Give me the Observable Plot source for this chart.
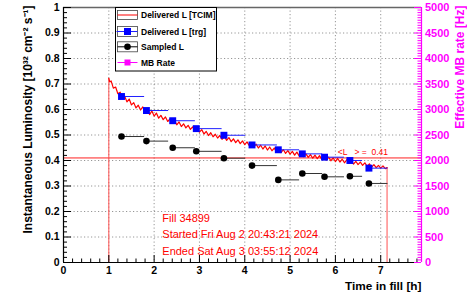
<!DOCTYPE html>
<html><head><meta charset="utf-8">
<script src="https://cdn.jsdelivr.net/npm/d3@7"></script>
<script src="https://cdn.jsdelivr.net/npm/@observablehq/plot@0.6"></script>
<style>html,body{margin:0;padding:0;background:#fff} svg{display:block}</style>
</head><body><div id="chart"></div>
<script>
// ---- data ----
const tcimTime = [1.00,1.02,1.05,1.10,1.15,1.20,1.25,1.30,1.35,1.40,1.45,1.50,1.55,1.60,1.65,1.70,1.75,1.80,1.85,1.90,1.95,2.00,2.05,2.10,2.15,2.20,2.25,2.30,2.35,2.40,2.45,2.50,2.55,2.60,2.65,2.70,2.75,2.80,2.85,2.90,2.95,3.00,3.05,3.10,3.15,3.20,3.25,3.30,3.35,3.40,3.45,3.50,3.55,3.60,3.65,3.70,3.75,3.80,3.85,3.90,3.95,4.00,4.05,4.10,4.15,4.20,4.25,4.30,4.35,4.40,4.45,4.50,4.55,4.60,4.65,4.70,4.75,4.80,4.85,4.90,4.95,5.00,5.05,5.10,5.15,5.20,5.25,5.30,5.35,5.40,5.45,5.50,5.55,5.60,5.65,5.70,5.75,5.80,5.85,5.90,5.95,6.00,6.05,6.10,6.15,6.20,6.25,6.30,6.35,6.40,6.45,6.50,6.55,6.60,6.65,6.70,6.75,6.80,6.85,6.90,6.95,7.00,7.05,7.10,7.14];
const tcimLumi = [0.722,0.708,0.712,0.684,0.688,0.662,0.668,0.645,0.652,0.630,0.641,0.618,0.627,0.606,0.617,0.598,0.610,0.590,0.600,0.580,0.594,0.574,0.586,0.566,0.577,0.560,0.571,0.553,0.563,0.546,0.558,0.540,0.551,0.533,0.544,0.528,0.538,0.522,0.532,0.516,0.527,0.511,0.521,0.504,0.514,0.498,0.509,0.493,0.503,0.488,0.498,0.483,0.494,0.479,0.490,0.474,0.485,0.470,0.481,0.466,0.477,0.462,0.473,0.458,0.468,0.453,0.464,0.449,0.460,0.445,0.457,0.441,0.453,0.438,0.449,0.434,0.446,0.431,0.443,0.428,0.439,0.425,0.436,0.421,0.433,0.418,0.430,0.415,0.426,0.412,0.423,0.409,0.421,0.407,0.419,0.404,0.416,0.402,0.413,0.399,0.410,0.396,0.408,0.394,0.405,0.391,0.403,0.389,0.400,0.386,0.397,0.384,0.394,0.381,0.391,0.377,0.387,0.374,0.384,0.372,0.381,0.370,0.379,0.368,0.372];
const binStart = [1.28,1.83,2.41,2.93,3.54,4.16,4.74,5.27,5.76,6.32,6.74];
const binEnd   = [1.79,2.32,2.91,3.50,4.02,4.72,5.21,5.72,6.20,6.60,7.16];
const trgLumi     = [0.651,0.596,0.556,0.525,0.499,0.461,0.442,0.426,0.413,0.400,0.370];
const sampledLumi = [0.494,0.476,0.450,0.436,0.409,0.380,0.324,0.349,0.336,0.338,0.310];
const fillStart = 1.0, fillEnd = 7.14, avgLumi = 0.41, xMax = 7.9;
const xTicks = [0,1,2,3,4,5,6,7];
const yTicks = [0,0.1,0.2,0.3,0.4,0.5,0.6,0.7,0.8,0.9,1];
const yTickLabels = ["0","0.1","0.2","0.3","0.4","0.5","0.6","0.7","0.8","0.9","1"];
const rateTicks = [0,500,1000,1500,2000,2500,3000,3500,4000,4500,5000];
const rateMax = 5000;
const legendLabels = ["Delivered L [TCIM]","Delivered L [trg]","Sampled L","MB Rate"];
const infoText = "Fill 34899\nStarted Fri Aug 2 20:43:21 2024\nEnded Sat Aug 3 03:55:12 2024";
const avgLabel = "<L\u00a0\u00a0\u00a0> =\u00a0\u00a00.41";
const xTitle = "Time in fill [h]";
const yTitle = "Instantaneous Luminosity [10³² cm⁻² s⁻¹]";
const rateTitle = "Effective MB rate [Hz]";

// ---- derived tables ----
const n = Math.min(tcimTime.length, tcimLumi.length);
const tcim = d3.range(n).map(i => ({t: tcimTime[i], l: tcimLumi[i]}));
const bins = binStart.map((t, i) => ({t, end: binEnd[i], trg: trgLumi[i], smp: sampledLumi[i]}));
const xMinor = d3.range(0, xMax, 0.2).filter(v => Math.abs(v - Math.round(v)) > 1e-6);
const yMinor = d3.range(0, 1, 0.02).filter(v => Math.abs(v*10 - Math.round(v*10)) > 1e-6);
const rateMinor = d3.range(0, rateMax, 50).filter(v => v % 500 !== 0);
const pxX = xMax / (467 - 63 - 46), pxY = 1 / (295 - 7 - 33);
const FONT = "'Liberation Sans', Arial, Helvetica, sans-serif";
const grid = {stroke: "#8a8a8a", strokeDasharray: "1.2,2.3", strokeWidth: 0.9};

const plot = Plot.plot({
  width: 467, height: 295,
  marginLeft: 63, marginRight: 46, marginTop: 7, marginBottom: 33,
  style: {fontFamily: FONT, fontSize: "10.5px", fontWeight: "bold", background: "#fff", color: "#000", overflow: "visible"},
  x: {domain: [0, xMax], ticks: xTicks, tickSize: 0, tickPadding: 4, label: null, tickFormat: d => String(d)},
  y: {domain: [0, 1], ticks: yTicks, tickSize: 0, tickPadding: 4, label: null,
      tickFormat: d => yTickLabels[yTicks.indexOf(d)] ?? String(d)},
  marks: [
    Plot.ruleX(xTicks.slice(1), grid),
    Plot.ruleY(yTicks.slice(1, -1), grid),
    Plot.ruleY([avgLumi], {stroke: "#ff2020", strokeWidth: 1}),
    Plot.ruleX([fillStart], {y1: 0, y2: tcimLumi[0], stroke: "#ff5050", strokeWidth: 1}),
    Plot.ruleX([fillEnd], {y1: 0, y2: tcimLumi[n-1], stroke: "#ff5050", strokeWidth: 1}),
    Plot.line(tcim, {x: "t", y: "l", stroke: "#ff0000", strokeWidth: 1.2}),
    Plot.ruleY(bins, {y: "trg", x1: "t", x2: "end", stroke: "#2020ff", strokeWidth: 1}),
    Plot.ruleY(bins, {y: "smp", x1: "t", x2: "end", stroke: "#333", strokeWidth: 1}),
    Plot.dot(bins, {x: "t", y: "trg", symbol: "square", r: 3.9, fill: "#0000ff", stroke: "none"}),
    Plot.dot(bins, {x: "t", y: "smp", r: 3.3, fill: "#000", stroke: "none"}),
    // frame / axes
    Plot.ruleY([1], {stroke: "#666", strokeWidth: 1.5}),
    Plot.ruleX([0], {stroke: "#000", strokeWidth: 1.2}),
    Plot.ruleY([0], {stroke: "#000", strokeWidth: 1.2}),
    Plot.ruleX([xMax], {stroke: "#ff00ff", strokeWidth: 1.2}),
    // inward ticks
    Plot.ruleX(xTicks, {y1: 0, y2: 7 * pxY, stroke: "#000"}),
    Plot.ruleX(xMinor, {y1: 0, y2: 3.5 * pxY, stroke: "#000"}),
    Plot.ruleY(yTicks, {x1: 0, x2: 8 * pxX, stroke: "#000"}),
    Plot.ruleY(yMinor, {x1: 0, x2: 4 * pxX, stroke: "#000"}),
    Plot.ruleY(rateTicks, {y: d => d / rateMax, x1: xMax - 7 * pxX, x2: xMax, stroke: "#ff00ff"}),
    Plot.ruleY(rateMinor, {y: d => d / rateMax, x1: xMax - 3.5 * pxX, x2: xMax, stroke: "#ff00ff"}),
    Plot.text(rateTicks, {x: xMax, y: d => d / rateMax, text: d => String(d), textAnchor: "start", dx: 3.5,
      fill: "#ff00ff", fontSize: 11, fontWeight: "bold"}),
    // annotations
    Plot.text([avgLabel], {x: 6.05, y: avgLumi, text: d => d, dy: -3, lineAnchor: "bottom", textAnchor: "start",
      fill: "#ff0000", fontSize: 8.5, fontWeight: "normal"}),
    Plot.text([infoText], {x: 2.18, y: 0.203, text: d => d, lineAnchor: "top", textAnchor: "start",
      lineHeight: 1.47, fill: "#ff0000", fontSize: 11, fontWeight: "normal"}),
    Plot.text([xTitle], {frameAnchor: "bottom-right", text: d => d, textAnchor: "end", lineAnchor: "bottom",
      dy: 27, fontSize: 11.8, fontWeight: "bold", fill: "#000"}),
    Plot.text([yTitle], {frameAnchor: "top-left", text: d => d, rotate: -90, textAnchor: "end", lineAnchor: "bottom",
      dx: -31.5, dy: -2, fontSize: 12, fontWeight: "bold", fill: "#000"}),
    Plot.text([rateTitle], {frameAnchor: "top-right", text: d => d, rotate: -90, textAnchor: "end", lineAnchor: "bottom",
      dx: 42, dy: -2, fontSize: 12, fontWeight: "bold", fill: "#ff00ff"})
  ]
});
document.getElementById("chart").appendChild(plot);

// ---- legend (inside the frame, top-left) ----
const svg = d3.select(plot);
const lg = svg.append("g").attr("font-family", FONT).attr("font-weight", "bold").attr("font-size", 8.5)
  .attr("text-anchor", "start");
lg.append("rect").attr("x", 115.5).attr("y", 7.5).attr("width", 101).attr("height", 63.5)
  .attr("fill", "#ffffff").attr("stroke", "#000000").attr("stroke-width", 1);
const rowY = [15, 31.5, 46.8, 62.5];
function box(y, h) {
  lg.append("rect").attr("x", 117.5).attr("y", y).attr("width", 20).attr("height", h)
    .attr("fill", "#ffffff").attr("stroke", "#444444").attr("stroke-width", 0.8);
}
function hline(y, color, x1 = 117.5) {
  lg.append("line").attr("x1", x1).attr("x2", 137.5).attr("y1", y).attr("y2", y)
    .attr("stroke", color).attr("stroke-width", 1);
}
box(10.5, 9);  hline(rowY[0], "#ff0000");
box(26.5, 10); hline(rowY[1], "#2020ff", 116.5);
lg.append("rect").attr("x", 124).attr("y", rowY[1] - 3.5).attr("width", 7).attr("height", 7).attr("fill", "#0000ff");
box(41.8, 10); hline(rowY[2], "#000000");
lg.append("circle").attr("cx", 127.5).attr("cy", rowY[2]).attr("r", 3.3).attr("fill", "#000000");
hline(rowY[3], "#ff00ff");
lg.append("rect").attr("x", 124.5).attr("y", rowY[3] - 3).attr("width", 6).attr("height", 6).attr("fill", "#ff00ff");
legendLabels.forEach((s, i) => {
  lg.append("text").attr("x", 141).attr("y", rowY[i] + 3).attr("fill", "#000000")
    .attr("text-anchor", "start").text(s);
});
</script>
</body></html>
